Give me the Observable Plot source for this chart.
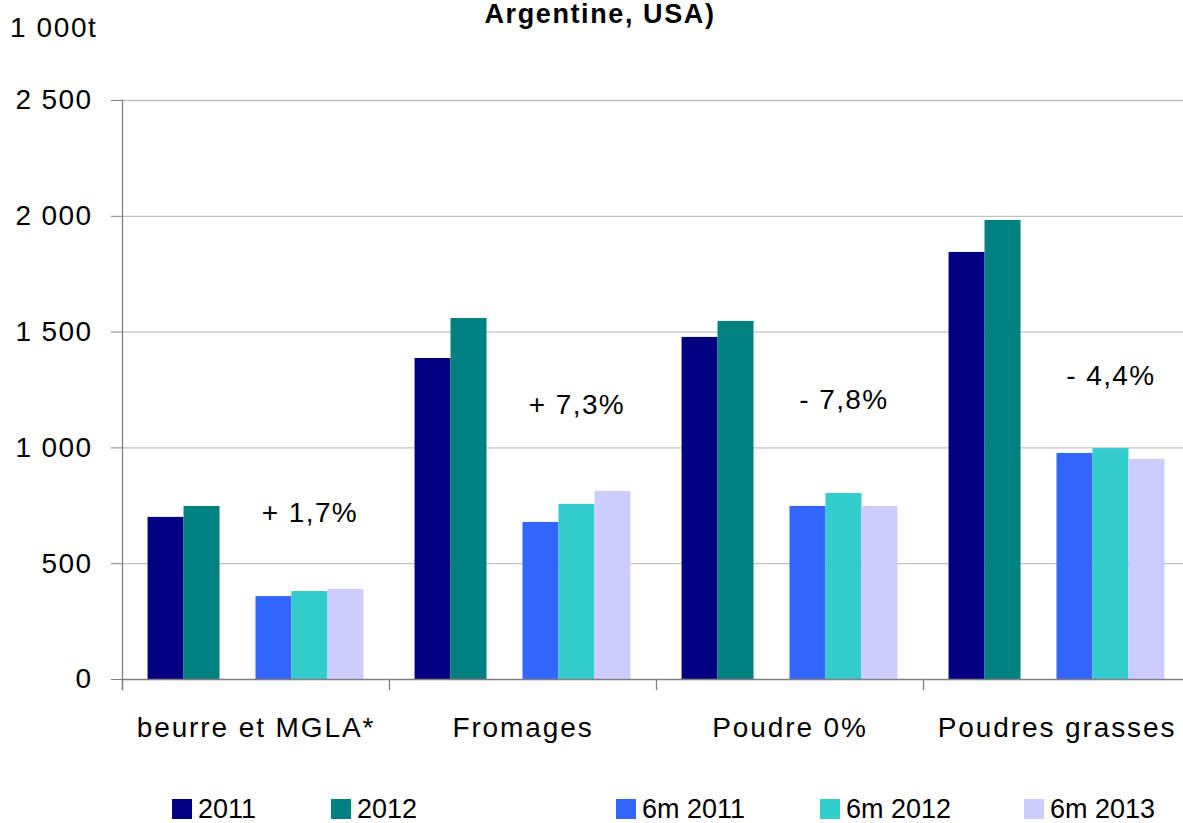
<!DOCTYPE html>
<html>
<head>
<meta charset="utf-8">
<script src="https://cdn.jsdelivr.net/npm/d3@7"></script>
<script src="https://cdn.jsdelivr.net/npm/@observablehq/plot@0.6"></script>
<style>
  html, body { margin: 0; padding: 0; background: #fff; overflow: hidden; width: 1183px; height: 823px; }
  body { position: relative; font-family: "Liberation Sans", Arial, sans-serif; color: #000; }
  #title { position: absolute; z-index: 2; top: 2px; left: 0; width: 1200px; text-align: center; font-weight: bold; font-size: 27px; line-height: 24px; letter-spacing: 1.6px; }
  #unit { position: absolute; z-index: 2; top: 14px; left: 10px; font-size: 28px; line-height: 28px; letter-spacing: 1.6px; }
  #chart { position: absolute; z-index: 1; top: 0; left: 0; width: 1190px; }
  #chart svg { max-width: none !important; }
  #chart svg text { letter-spacing: 1.4px; }
  #chart svg g[aria-label="fx-axis tick label"] text { letter-spacing: 1.9px; }
  #legend { position: absolute; z-index: 2; top: 0; left: 0; }
  .leg { position: absolute; top: 798px; font-size: 27px; line-height: 22px; display: flex; align-items: flex-end; white-space: nowrap; }
  .leg span.sw { display: inline-block; width: 20px; height: 20px; margin-right: 6px; margin-bottom: 1px; }
</style>
</head>
<body>
<div id="title">Argentine, USA)</div>
<div id="unit">1 000t</div>
<div id="chart"></div>
<div id="legend"></div>
<script>
// ---- data ----
const categories = ["beurre et MGLA*", "Fromages", "Poudre 0%", "Poudres grasses"];
const series = ["2011", "2012", "6m 2011", "6m 2012", "6m 2013"];
const slots = ["2011", "2012", " ", "6m 2011", "6m 2012", "6m 2013"];
const v2011   = [700, 1386, 1477, 1844];
const v2012   = [747, 1559, 1546, 1982];
const v6m2011 = [358, 678, 747, 976];
const v6m2012 = [380, 756, 803, 997];
const v6m2013 = [389, 812, 747, 950];
const colors = ["#000080", "#008080", "#3366FF", "#33CCCC", "#CCCCFF"];
const yTicks = [0, 500, 1000, 1500, 2000, 2500];
const annoText = ["+ 1,7%", "+ 7,3%", "- 7,8%", "- 4,4%"];
const annoY = [717, 1183, 1205, 1312];
const legendLeft = [172, 331, 616, 820, 1024];

// ---- build table ----
const valuesBySeries = [v2011, v2012, v6m2011, v6m2012, v6m2013];
const rows = [];
categories.forEach((c, i) => {
  series.forEach((s, j) => rows.push({cat: c, series: s, value: valuesBySeries[j][i]}));
});
const annos = categories.map((c, i) => ({cat: c, t: annoText[i], y: annoY[i]}));

const marginTop = 100, marginBottom = 70, height = 749;
const plotH = height - marginTop - marginBottom;
const fmt = d => d3.format(",")(d).replace(/,/g, " ");
const axisColor = "#808080";

const chart = Plot.plot({
  width: 1190,
  height,
  marginTop,
  marginBottom,
  marginLeft: 122,
  marginRight: 0,
  style: {fontFamily: "'Liberation Sans', Arial, sans-serif", color: "#000", background: "transparent", overflow: "visible", maxWidth: "none"},
  fx: {domain: categories, padding: 0, label: null, axis: null, round: false},
  x: {domain: slots, paddingInner: 0, paddingOuter: 0.71, axis: null, round: false},
  y: {domain: [0, 2500], axis: null},
  color: {domain: series, range: colors},
  marks: [
    Plot.ruleY(yTicks.filter(d => d > 0), {stroke: "#c0c0c0", strokeWidth: 1.3}),
    Plot.barY(rows, {fx: "cat", x: "series", y: "value", fill: "series"}),
    Plot.ruleY([0], {stroke: axisColor, strokeWidth: 1.5}),
    Plot.frame({anchor: "left", stroke: axisColor, strokeWidth: 1.3, insetTop: plotH, insetBottom: -10}),
    Plot.frame({anchor: "left", facet: "super", stroke: axisColor, strokeWidth: 1.3, insetBottom: -10}),
    Plot.axisY({ticks: yTicks, tickFormat: fmt, tickSize: 11, tickPadding: 19, fontSize: 28, stroke: axisColor, label: null}),
    Plot.axisFx({anchor: "bottom", tickSize: 0, tickPadding: 38, fontSize: 28, label: null}),
    Plot.text(annos, {fx: "cat", x: () => "6m 2012", y: "y", text: "t", fontSize: 28, fill: "#000"})
  ]
});
document.getElementById("chart").appendChild(chart);

// ---- legend ----
const legend = document.getElementById("legend");
series.forEach((s, i) => {
  const item = document.createElement("div");
  item.className = "leg";
  item.style.left = legendLeft[i] + "px";
  const sw = document.createElement("span");
  sw.className = "sw";
  sw.style.background = colors[i];
  item.appendChild(sw);
  item.appendChild(document.createTextNode(s));
  legend.appendChild(item);
});
</script>
</body>
</html>
